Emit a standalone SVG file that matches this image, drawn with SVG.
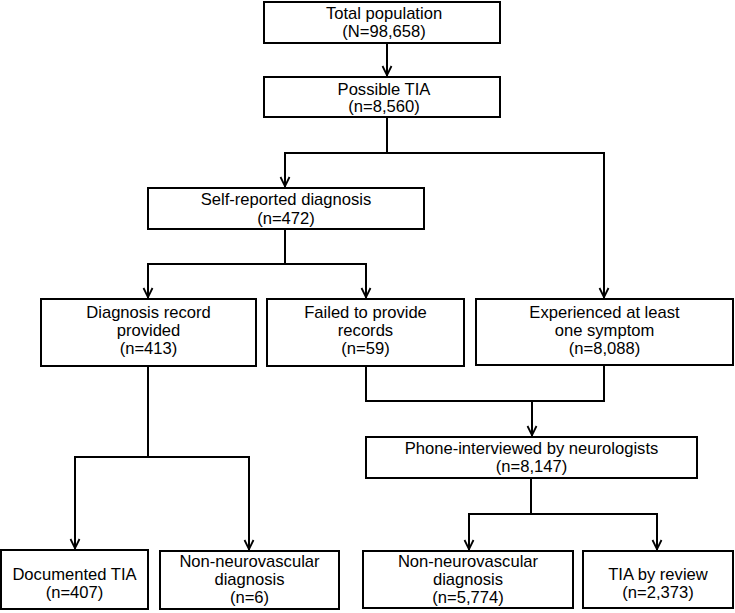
<svg xmlns="http://www.w3.org/2000/svg" width="735" height="613" viewBox="0 0 735 613">
<defs>
<style>
.box{fill:#fff;stroke:#000;stroke-width:2}
.t{font-family:"Liberation Sans",Arial,sans-serif;font-size:16.6px;fill:#000;text-anchor:middle}
.c{fill:none;stroke:#000;stroke-width:2}
</style>
<marker id="ah" markerUnits="userSpaceOnUse" markerWidth="14" markerHeight="12" viewBox="-12 -6 14 12" refX="0" refY="0" orient="auto" overflow="visible">
<path d="M-10,-4.5 L-0.8,0 L-10,4.5" fill="none" stroke="#000" stroke-width="1.8"/>
</marker>
</defs>
<rect width="735" height="613" fill="#fff"/>
<g id="connectors">
<path class="c" d="M387,43 V76" marker-end="url(#ah)"/>
<path class="c" d="M387,117 V153 H285 V187" marker-end="url(#ah)"/>
<path class="c" d="M387,153 H604 V298" marker-end="url(#ah)"/>
<path class="c" d="M285,229 V264 H148 V298" marker-end="url(#ah)"/>
<path class="c" d="M285,264 H366 V298" marker-end="url(#ah)"/>
<path class="c" d="M148,366 V457 H75 V549" marker-end="url(#ah)"/>
<path class="c" d="M148,457 H249 V550" marker-end="url(#ah)"/>
<path class="c" d="M366,366 V401 H604 V365"/>
<path class="c" d="M532,401 V436" marker-end="url(#ah)"/>
<path class="c" d="M531,478 V514 H469 V550" marker-end="url(#ah)"/>
<path class="c" d="M531,514 H657 V550" marker-end="url(#ah)"/>
</g>
<g id="n1"><rect class="box" x="264" y="2" width="236" height="41"/><text class="t" x="384" y="18.5">Total population</text><text class="t" x="384" y="36.5">(N=98,658)</text></g>
<g id="n2"><rect class="box" x="264" y="77" width="236" height="40"/><text class="t" x="384" y="94.5">Possible TIA</text><text class="t" x="384" y="112">(n=8,560)</text></g>
<g id="n3"><rect class="box" x="148" y="188" width="276" height="41"/><text class="t" x="286" y="205">Self-reported diagnosis</text><text class="t" x="286" y="223.5">(n=472)</text></g>
<g id="n4"><rect class="box" x="41" y="299" width="215" height="67"/><text class="t" x="148.5" y="318">Diagnosis record</text><text class="t" x="148.5" y="336">provided</text><text class="t" x="148.5" y="354">(n=413)</text></g>
<g id="n5"><rect class="box" x="267" y="299" width="197" height="67"/><text class="t" x="365.5" y="318">Failed to provide</text><text class="t" x="365.5" y="336">records</text><text class="t" x="365.5" y="354">(n=59)</text></g>
<g id="n6"><rect class="box" x="476" y="299" width="257" height="66"/><text class="t" x="604.5" y="318">Experienced at least</text><text class="t" x="604.5" y="336">one symptom</text><text class="t" x="604.5" y="354">(n=8,088)</text></g>
<g id="n7"><rect class="box" x="366" y="437" width="331" height="41"/><text class="t" x="531.5" y="454">Phone-interviewed by neurologists</text><text class="t" x="531.5" y="472">(n=8,147)</text></g>
<g id="n8"><rect class="box" x="1" y="550" width="147" height="59"/><text class="t" x="74.5" y="580">Documented TIA</text><text class="t" x="74.5" y="598">(n=407)</text></g>
<g id="n9"><rect class="box" x="160" y="551" width="179" height="58"/><text class="t" x="249.5" y="567">Non-neurovascular</text><text class="t" x="249.5" y="585">diagnosis</text><text class="t" x="249.5" y="603">(n=6)</text></g>
<g id="n10"><rect class="box" x="363" y="551" width="210" height="57"/><text class="t" x="468" y="567">Non-neurovascular</text><text class="t" x="468" y="585">diagnosis</text><text class="t" x="468" y="603">(n=5,774)</text></g>
<g id="n11"><rect class="box" x="583" y="551" width="150" height="57"/><text class="t" x="658" y="580">TIA by review</text><text class="t" x="658" y="598">(n=2,373)</text></g>
</svg>
